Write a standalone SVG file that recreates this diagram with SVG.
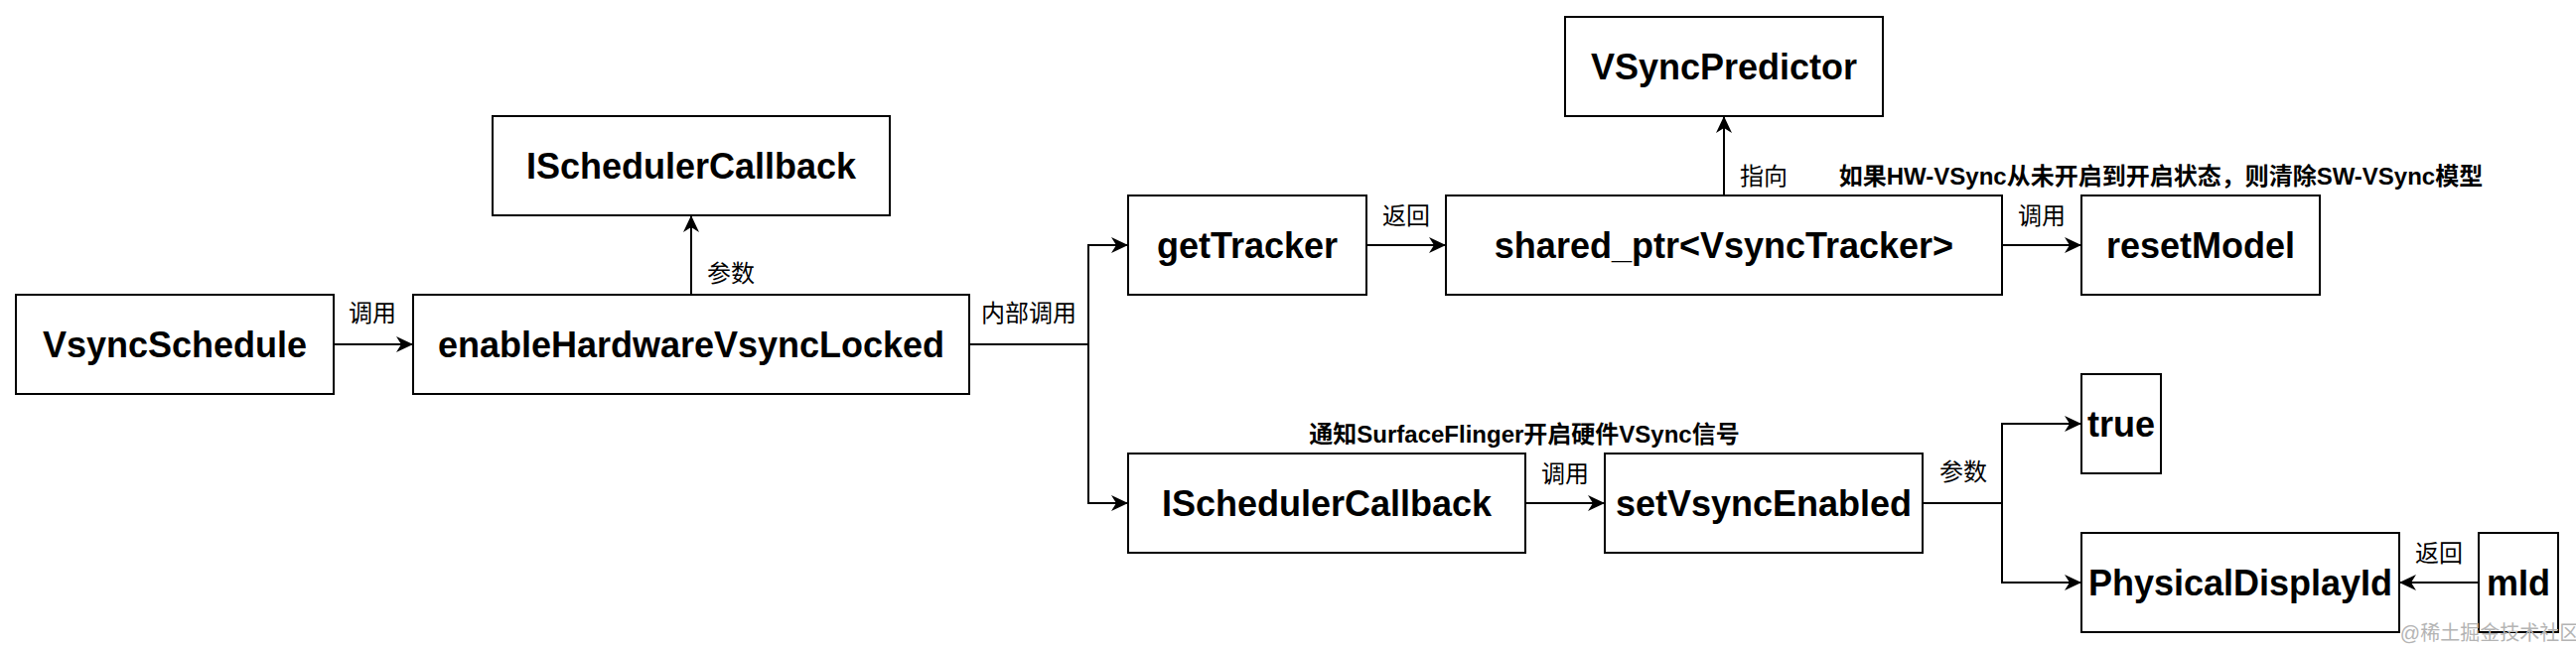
<svg xmlns="http://www.w3.org/2000/svg" width="2594" height="654" viewBox="0 0 2594 654">
  <defs>
    <style>
      .box { fill: #ffffff; stroke: #000000; stroke-width: 2; }
      .nt { font-family: "Liberation Sans", Arial, "Noto Sans CJK SC", sans-serif; font-weight: bold; font-size: 36px; fill: #000; text-anchor: middle; dominant-baseline: central; }
      .lb { font-family: "Liberation Sans", Arial, "Noto Sans CJK SC", sans-serif; font-size: 24px; fill: #000; text-anchor: middle; dominant-baseline: central; }
      .lbb { font-weight: bold; }
      .edge { fill: none; stroke: #000000; stroke-width: 2; marker-end: url(#arrow); }
      .wm { font-family: "Liberation Sans", "Noto Sans CJK SC", sans-serif; font-size: 20px; fill: #b4b4b4; text-anchor: middle; dominant-baseline: central; }
    </style>
    <marker id="arrow" markerUnits="userSpaceOnUse" markerWidth="18" markerHeight="18" viewBox="0 0 18 18" refX="17" refY="9" orient="auto">
      <path d="M0,1 L17,9 L0,17 L5,9 Z" fill="#000000"/>
    </marker>
  </defs>
  <rect width="2594" height="654" fill="#ffffff"/>

  <g id="connectors">
    <path class="edge" d="M336,347 H416"/>
    <path class="edge" d="M696,297 V217"/>
    <path class="edge" d="M976,347 H1096 V247 H1136"/>
    <path class="edge" d="M976,347 H1096 V507 H1136"/>
    <path class="edge" d="M1376,247 H1456"/>
    <path class="edge" d="M1736,197 V117"/>
    <path class="edge" d="M2016,247 H2096"/>
    <path class="edge" d="M1536,507 H1616"/>
    <path class="edge" d="M1936,507 H2016 V427 H2096"/>
    <path class="edge" d="M1936,507 H2016 V587 H2096"/>
    <path class="edge" d="M2496,587 H2416"/>
  </g>

  <g id="edge-labels">
    <text class="lb" x="375" y="315">调用</text>
    <text class="lb" x="736" y="275">参数</text>
    <text class="lb" x="1036" y="315">内部调用</text>
    <text class="lb" x="1416" y="217">返回</text>
    <text class="lb" x="1776" y="177">指向</text>
    <text class="lb lbb" x="2176" y="177">如果HW-VSync从未开启到开启状态，则清除SW-VSync模型</text>
    <text class="lb" x="2056" y="217">调用</text>
    <text class="lb lbb" x="1535" y="437">通知SurfaceFlinger开启硬件VSync信号</text>
    <text class="lb" x="1576" y="477">调用</text>
    <text class="lb" x="1977" y="475">参数</text>
    <text class="lb" x="2456" y="557">返回</text>
  </g>

  <g id="node-vsyncschedule">
    <rect class="box" x="16" y="297" width="320" height="100"/>
    <text class="nt" x="176" y="347">VsyncSchedule</text>
  </g>
  <g id="node-enablehw">
    <rect class="box" x="416" y="297" width="560" height="100"/>
    <text class="nt" x="696" y="347">enableHardwareVsyncLocked</text>
  </g>
  <g id="node-ischedcb-top">
    <rect class="box" x="496" y="117" width="400" height="100"/>
    <text class="nt" x="696" y="167">ISchedulerCallback</text>
  </g>
  <g id="node-gettracker">
    <rect class="box" x="1136" y="197" width="240" height="100"/>
    <text class="nt" x="1256" y="247">getTracker</text>
  </g>
  <g id="node-sharedptr">
    <rect class="box" x="1456" y="197" width="560" height="100"/>
    <text class="nt" x="1736" y="247">shared_ptr&lt;VsyncTracker&gt;</text>
  </g>
  <g id="node-vsyncpredictor">
    <rect class="box" x="1576" y="17" width="320" height="100"/>
    <text class="nt" x="1736" y="67">VSyncPredictor</text>
  </g>
  <g id="node-resetmodel">
    <rect class="box" x="2096" y="197" width="240" height="100"/>
    <text class="nt" x="2216" y="247">resetModel</text>
  </g>
  <g id="node-ischedcb-bottom">
    <rect class="box" x="1136" y="457" width="400" height="100"/>
    <text class="nt" x="1336" y="507">ISchedulerCallback</text>
  </g>
  <g id="node-setvsyncenabled">
    <rect class="box" x="1616" y="457" width="320" height="100"/>
    <text class="nt" x="1776" y="507">setVsyncEnabled</text>
  </g>
  <g id="node-true">
    <rect class="box" x="2096" y="377" width="80" height="100"/>
    <text class="nt" x="2136" y="427">true</text>
  </g>
  <g id="node-physicaldisplayid">
    <rect class="box" x="2096" y="537" width="320" height="100"/>
    <text class="nt" x="2256" y="587">PhysicalDisplayId</text>
  </g>
  <g id="node-mid">
    <rect class="box" x="2496" y="537" width="80" height="100"/>
    <text class="nt" x="2536" y="587">mId</text>
  </g>

  <text class="wm" x="2507" y="638">@稀土掘金技术社区</text>
</svg>
